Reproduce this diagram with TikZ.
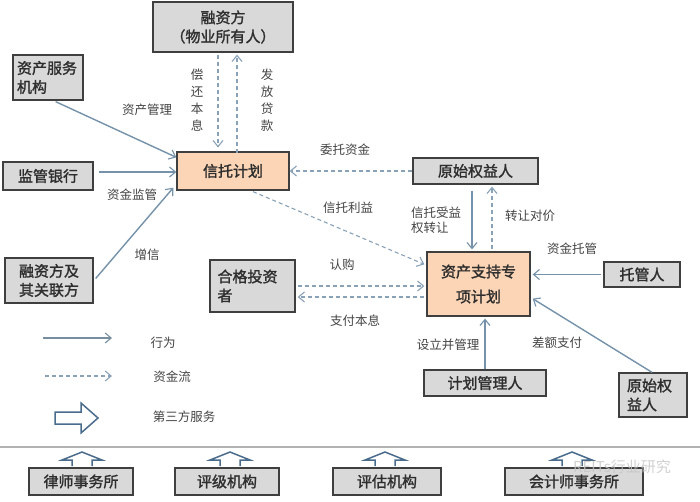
\documentclass[tikz,border=0pt]{standalone}
\usepackage{fontspec}
\setmainfont{Noto Sans CJK SC}
\newfontfamily\boxfont[FakeBold=1.6]{Noto Sans CJK SC}
\usetikzlibrary{arrows.meta,calc}
\definecolor{boxfill}{HTML}{D9D9D9}
\definecolor{boxline}{HTML}{3F3F3F}
\definecolor{orgfill}{HTML}{FBD5B5}
\definecolor{actline}{HTML}{7592AA}
\definecolor{flowline}{HTML}{8AA2B8}
\definecolor{lbl}{HTML}{444444}
\definecolor{hollow}{HTML}{4A6C8C}
\tikzset{
  box/.style={draw=boxline, line width=1.3pt, fill=boxfill, inner sep=0pt,
    font=\fontsize{15}{19}\selectfont\boxfont, text=black!82, align=center},
  lbox/.style={box, align=left},
  obox/.style={box, fill=orgfill},
  act/.style={draw=actline, line width=1.4pt, -{Straight Barb[length=6pt,width=10pt,line width=1.1pt]}},
  flow/.style={draw=flowline, line width=1.1pt, dash pattern=on 4pt off 3pt, -{Straight Barb[length=6pt,width=10pt,line width=1.1pt]}},
  lab/.style={font=\fontsize{12.5}{17}\selectfont, text=lbl, inner sep=0pt, align=center},
  holl/.style={draw=hollow, line width=1.5pt, fill=white, line join=miter},
}
\begin{document}
\begin{tikzpicture}[x=1pt,y=-1pt]
\useasboundingbox (0,0) rectangle (700,501);
\fill[white] (0,0) rectangle (700,501);
% boxes
\node[box, minimum width=140pt, minimum height=50pt] (rzf) at (223,27) {融资方\\（物业所有人）};
\node[lbox, minimum width=70pt, minimum height=45pt, text width=62pt] (zcfw) at (48,77.5) {资产服务\\机构};
\node[box, minimum width=90pt, minimum height=28pt] (jgyh) at (48,176) {监管银行};
\node[box, minimum width=88pt, minimum height=45pt] (rzfgl) at (49,280.5) {融资方及\\其关联方};
\node[obox, minimum width=112pt, minimum height=38pt] (xt) at (233,171) {信托计划};
\node[box, minimum width=125pt, minimum height=26pt] (yssy) at (475.5,171) {原始权益人};
\node[lbox, minimum width=85pt, minimum height=52pt, text width=70pt] (hgtz) at (252.5,286) {合格投资\\者};
\node[obox, minimum width=103pt, minimum height=64pt, font=\fontsize{15}{25}\selectfont\boxfont] (zczc) at (478.5,284) {资产支持专\\项计划};
\node[box, minimum width=76pt, minimum height=25pt] (tgr) at (642,274.5) {托管人};
\node[box, minimum width=122pt, minimum height=26pt] (jhgl) at (485,383) {计划管理人};
\node[lbox, minimum width=68pt, minimum height=44pt, text width=52pt] (yssy2) at (653,395) {原始权\\益人};
\node[box, minimum width=104pt, minimum height=27pt] (lsws) at (81,481.5) {律师事务所};
\node[box, minimum width=104pt, minimum height=27pt] (pjjg) at (227,481.5) {评级机构};
\node[box, minimum width=108pt, minimum height=27pt] (pgjg) at (387,481.5) {评估机构};
\node[box, minimum width=138pt, minimum height=27pt] (kjsws) at (574,481.5) {会计师事务所};
% connectors
\draw[act] ([xshift=-28pt,yshift=-1pt]zcfw.south east) -- ([yshift=-6pt]xt.north west);
\draw[act] ([xshift=5pt,yshift=4pt]jgyh.east) -- ([yshift=-1pt]xt.west);
\draw[act] ([xshift=2pt,yshift=2pt]rzfgl.east) -- ([xshift=-3pt,yshift=3pt]xt.south west);
\draw[flow] ([xshift=-5pt,yshift=-2pt]rzf.south) -- ([xshift=-15pt,yshift=4pt]xt.north);
\draw[flow] ([xshift=4pt,yshift=-2pt]xt.north) -- ([xshift=14pt,yshift=-2pt]rzf.south);
\draw[flow] (yssy.west) -- (xt.east);
\draw[flow] ([xshift=20pt,yshift=-1pt]xt.south) -- ([xshift=-2pt,yshift=-13pt]zczc.north west);
\draw[act] ([xshift=-3.5pt,yshift=-6pt]yssy.south) -- ([xshift=-6.5pt,yshift=2pt]zczc.north);
\draw[flow] ([xshift=13.5pt,yshift=2pt]zczc.north) -- ([xshift=16.5pt,yshift=-2pt]yssy.south);
\draw[flow] ([xshift=2pt]hgtz.east) -- ([xshift=-2pt]hgtz.east -| zczc.west);
\draw[flow] ([xshift=-2pt,yshift=-11pt]hgtz.east -| zczc.west) -- ([xshift=2pt,yshift=-11pt]hgtz.east);
\draw[act] ([xshift=-2pt]tgr.west) -- ([xshift=2pt]tgr.west -| zczc.east);
\draw[act] ([xshift=-1pt]yssy2.north) -- ([xshift=2pt,yshift=18pt]zczc.south east);
\draw[act] (jhgl.north) -- ([yshift=-2pt]jhgl.north |- zczc.south);
% labels
\node[lab] (l1) at (147,110) {资产管理};
\node[lab] (l2) at (197,100) {偿\\还\\本\\息};
\node[lab] (l3) at (267,100) {发\\放\\贷\\款};
\node[lab] (l4) at (132,195) {资金监管};
\node[lab] (l5) at (147,255) {增信};
\node[lab] (l6) at (345,150) {委托资金};
\node[lab] (l7) at (348,208) {信托利益};
\node[lab, align=left, font=\fontsize{12.5}{15}\selectfont] (l8) at (436,220) {信托受益\\权转让};
\node[lab] (l9) at (530,216) {转让对价};
\node[lab] (l10) at (572,249) {资金托管};
\node[lab] (l11) at (342,265) {认购};
\node[lab] (l12) at (355,321) {支付本息};
\node[lab] (l13) at (448,345) {设立并管理};
\node[lab] (l14) at (557,343) {差额支付};
% legend
\coordinate (la1) at (43,338); \coordinate (la2) at (112,338);
\draw[act, draw=actline!80!gray] (la1) -- (la2);
\node[lab] (lg1) at (163,343) {行为};
\coordinate (lb1) at (45,376); \coordinate (lb2) at (112,376);
\draw[flow] (lb1) -- (lb2);
\node[lab] (lg2) at (172,377) {资金流};
\draw[holl] (55,412) -- (81,412) -- (81,403) -- (98,418) -- (81,433) -- (81,424) -- (55,424) -- cycle;
\node[lab] (lg3) at (184,417) {第三方服务};
% separator
\draw[draw=gray!60, line width=1.2pt] (0,447) -- (700,447);
% hollow up arrows
\foreach \cx in {82,230,385,572}{
  \draw[holl] (\cx-10,466) -- (\cx-10,460) -- (\cx-20,460) -- (\cx,452) -- (\cx+20,460) -- (\cx+10,460) -- (\cx+10,466);
}
% watermark
\node[font=\fontsize{15}{18}\selectfont, text=gray!45, opacity=0.8, inner sep=0pt] (wm) at (622,467) {REITs行业研究};
\end{tikzpicture}
\end{document}
